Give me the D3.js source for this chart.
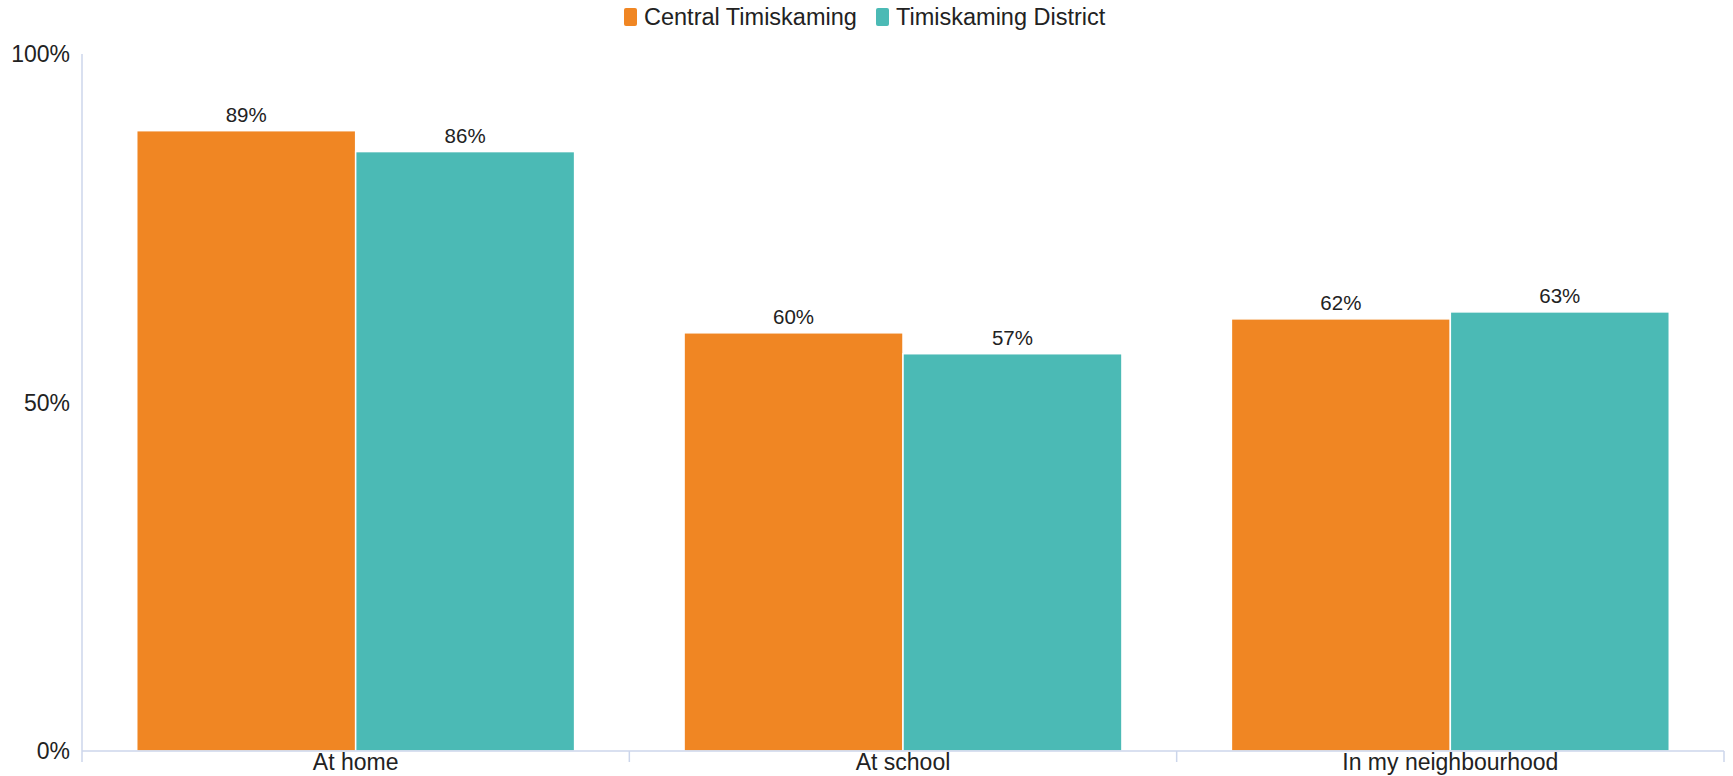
<!DOCTYPE html>
<html>
<head>
<meta charset="utf-8">
<script src="https://cdn.jsdelivr.net/npm/d3@7/dist/d3.min.js"></script>
<style>
  html, body { margin: 0; padding: 0; background: #fff; }
  svg { display: block; font-family: "Liberation Sans", Arial, Helvetica, sans-serif; }
</style>
</head>
<body>
<svg id="chart" width="1733" height="776"></svg>
<script>
// Share of students who feel safe, by place
const categories = ["At home", "At school", "In my neighbourhood"];
const seriesNames = ["Central Timiskaming", "Timiskaming District"];
const centralValues = [89, 60, 62];
const districtValues = [86, 57, 63];
const yTicks = [0, 50, 100];
const seriesColors = ["#f08623", "#4bbab5"];

const width = 1733, height = 776;
const margin = { top: 54, right: 9, bottom: 25, left: 82 };

const svg = d3.select("#chart");

const x0 = d3.scaleBand()
  .domain(categories)
  .range([margin.left, width - margin.right])
  .paddingInner(0)
  .paddingOuter(0);

const x1 = d3.scaleBand()
  .domain(seriesNames)
  .range([0, x0.bandwidth()])
  .paddingInner(0)
  .paddingOuter(0.25);

const y = d3.scaleLinear()
  .domain([0, 100])
  .range([height - margin.bottom, margin.top]);

const color = d3.scaleOrdinal().domain(seriesNames).range(seriesColors);

const rows = categories.map((c, i) => ({
  category: c,
  values: [
    { series: seriesNames[0], value: centralValues[i] },
    { series: seriesNames[1], value: districtValues[i] }
  ]
}));

// Bars
const groups = svg.append("g")
  .selectAll("g")
  .data(rows)
  .join("g")
  .attr("transform", d => `translate(${x0(d.category)},0)`);

groups.selectAll("rect")
  .data(d => d.values)
  .join("rect")
  .attr("x", d => x1(d.series))
  .attr("y", d => y(d.value))
  .attr("width", x1.bandwidth())
  .attr("height", d => y(0) - y(d.value))
  .attr("fill", d => color(d.series))
  .attr("stroke", "#ffffff")
  .attr("stroke-width", 1.5);

// Value labels
groups.selectAll("text")
  .data(d => d.values)
  .join("text")
  .attr("x", d => x1(d.series) + x1.bandwidth() / 2)
  .attr("y", d => y(d.value) - 9)
  .attr("text-anchor", "middle")
  .attr("font-size", 20.5)
  .attr("fill", "#222")
  .text(d => d.value + "%");

// X axis
const xAxis = svg.append("g")
  .attr("transform", `translate(0,${y(0)})`);
xAxis.append("line")
  .attr("x1", margin.left).attr("x2", width - margin.right)
  .attr("y1", 0).attr("y2", 0)
  .attr("stroke", "#ccd6eb").attr("stroke-width", 1.5);
const boundaries = categories.map(c => x0(c)).concat([x0.range()[1]]);
xAxis.selectAll("line.tick")
  .data(boundaries)
  .join("line")
  .attr("class", "tick")
  .attr("x1", d => d).attr("x2", d => d)
  .attr("y1", 0).attr("y2", 11)
  .attr("stroke", "#ccd6eb").attr("stroke-width", 1.5);
xAxis.selectAll("text")
  .data(categories)
  .join("text")
  .attr("x", d => x0(d) + x0.bandwidth() / 2)
  .attr("y", 19)
  .attr("text-anchor", "middle")
  .attr("font-size", 23)
  .attr("fill", "#222")
  .text(d => d);

// Y axis
const yAxis = svg.append("g");
yAxis.append("line")
  .attr("x1", margin.left).attr("x2", margin.left)
  .attr("y1", y(100)).attr("y2", y(0))
  .attr("stroke", "#ccd6eb").attr("stroke-width", 1.5);
yAxis.selectAll("text")
  .data(yTicks)
  .join("text")
  .attr("x", margin.left - 12)
  .attr("y", d => y(d) + 8)
  .attr("text-anchor", "end")
  .attr("font-size", 23)
  .attr("fill", "#222")
  .text(d => d + "%");

// Legend
const legend = svg.append("g").attr("transform", "translate(0,17)");
const legendItems = [
  { name: seriesNames[0], x: 624 },
  { name: seriesNames[1], x: 876 }
];
legendItems.forEach(item => {
  legend.append("rect")
    .attr("x", item.x).attr("y", -9)
    .attr("width", 13).attr("height", 18)
    .attr("rx", 2)
    .attr("fill", color(item.name));
  legend.append("text")
    .attr("x", item.x + 20).attr("y", 8)
    .attr("font-size", 23.5)
    .attr("fill", "#222")
    .text(item.name);
});
</script>
</body>
</html>
